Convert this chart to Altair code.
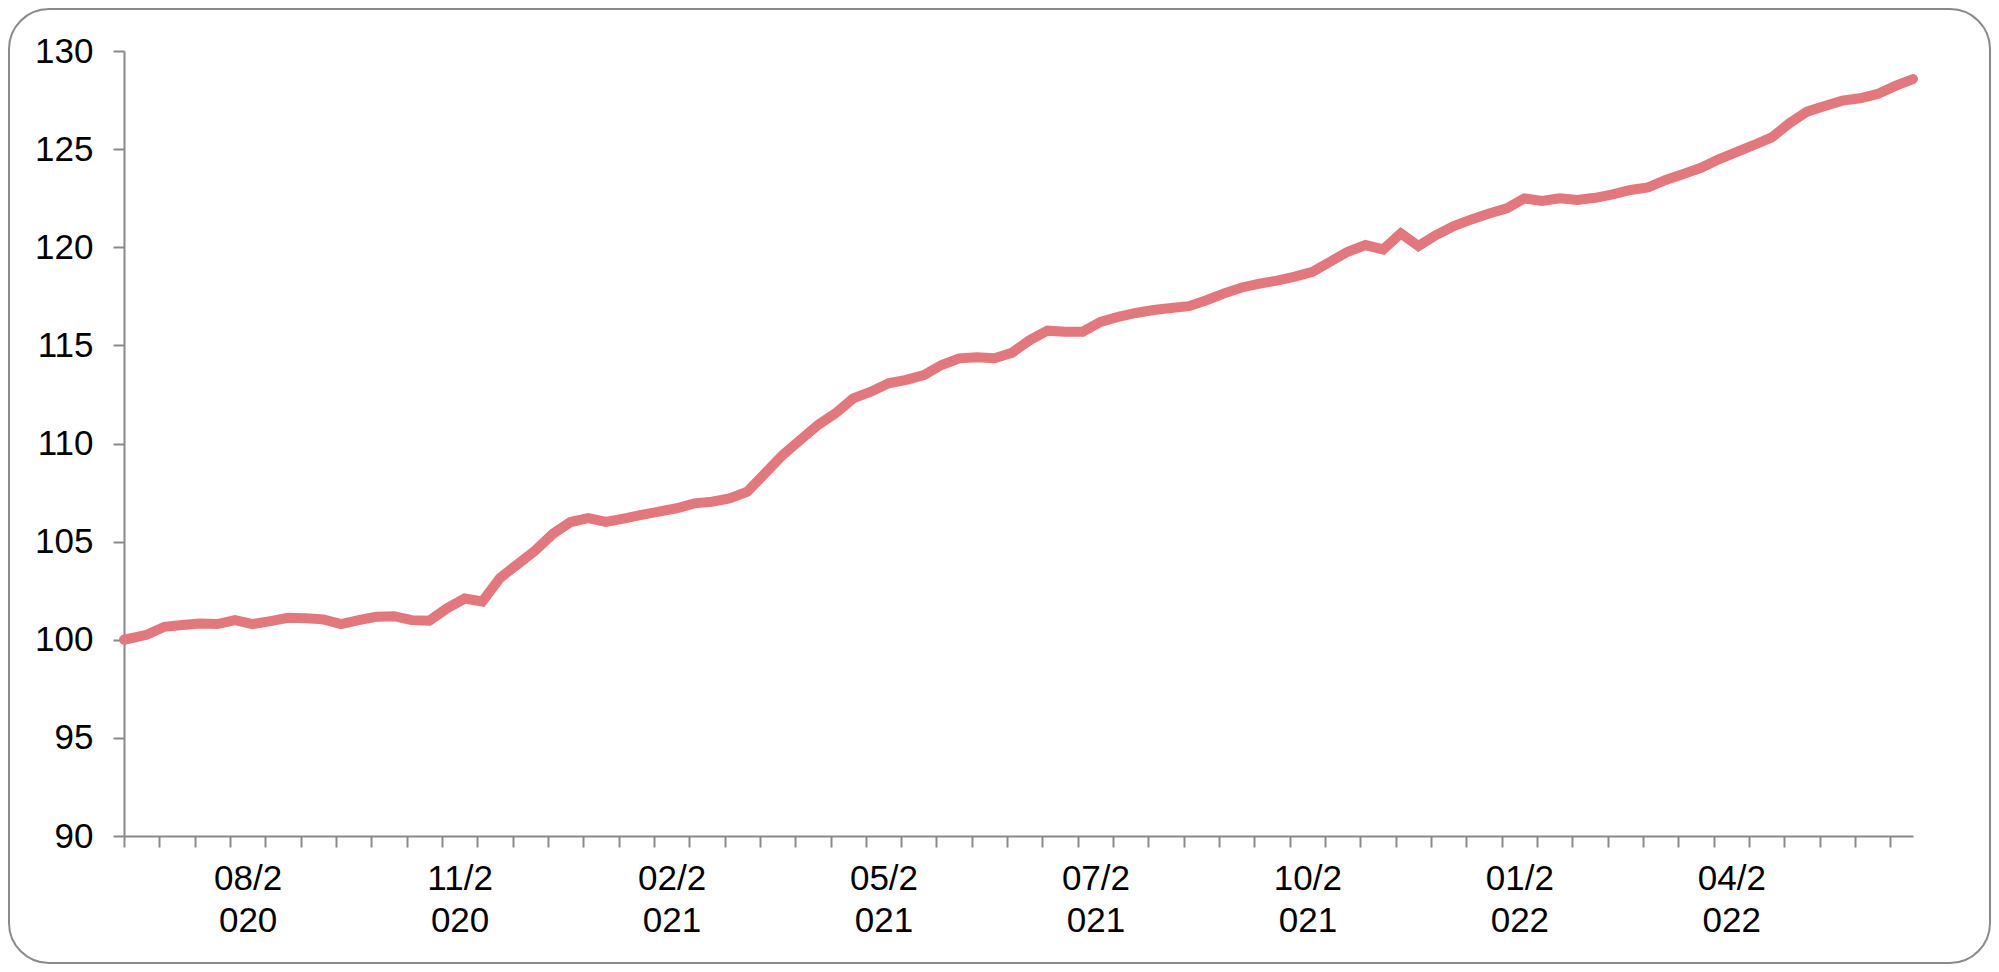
import altair as alt
import pandas as pd

# ---- data ----
START_DATE = "2020-07-05"      # base point (index = 100)
FIRST_WEEK = "2020-07-14"      # first weekly observation after the base
N_WEEKS = 101

VALUES = [
    100.0, 100.25, 100.66, 100.75, 100.83, 100.8, 101.0, 100.8, 100.95, 101.12,
    101.1, 101.04, 100.8, 101.0, 101.17, 101.2, 101.0, 100.97, 101.6, 102.1,
    101.95, 103.15, 103.85, 104.55, 105.4, 106.0, 106.2, 106.0, 106.17, 106.36,
    106.53, 106.7, 106.95, 107.03, 107.2, 107.54, 108.47, 109.41, 110.18, 110.94,
    111.54, 112.3, 112.64, 113.07, 113.24, 113.49, 114.0, 114.34, 114.39, 114.34,
    114.63, 115.27, 115.75, 115.7, 115.7, 116.2, 116.45, 116.65, 116.8, 116.9,
    117.0, 117.3, 117.65, 117.95, 118.15, 118.3, 118.5, 118.75, 119.26, 119.77,
    120.11, 119.89, 120.7, 120.06, 120.62, 121.08, 121.42, 121.72, 121.98, 122.49,
    122.36, 122.49, 122.41, 122.52, 122.69, 122.92, 123.05, 123.43, 123.73, 124.05,
    124.48, 124.85, 125.21, 125.6, 126.31, 126.91, 127.2, 127.47, 127.59, 127.81,
    128.22, 128.57,
]

X_LABELS = ["08/2020", "11/2020", "02/2021", "05/2021",
            "07/2021", "10/2021", "01/2022", "04/2022"]
Y_TICKS = [90, 95, 100, 105, 110, 115, 120, 125, 130]

TICK_STEP_DAYS = 14      # one minor tick every two weeks
FIRST_LABEL_SLOT = 3     # label sits in the 4th tick interval
LABEL_EVERY = 6          # then every 6 intervals

# ---- build table ----
dates = [pd.Timestamp(START_DATE)] + list(pd.date_range(FIRST_WEEK, periods=N_WEEKS, freq="7D"))
days = [(d - dates[0]).days for d in dates]
df = pd.DataFrame({"day": days, "value": VALUES})
x_max = days[-1]

tick_vals = list(range(0, x_max + 1, TICK_STEP_DAYS))
label_vals = [(FIRST_LABEL_SLOT + LABEL_EVERY * k) * TICK_STEP_DAYS + TICK_STEP_DAYS // 2
              for k in range(len(X_LABELS))]
axis_vals = sorted(set(tick_vals + label_vals))

expr = ""
for pos, lab in zip(label_vals, X_LABELS):
    expr += f"datum.value === {pos} ? ['{lab[:4]}', '{lab[4:]}'] : "
expr += "''"

AXIS_GRAY = "#898989"
FONT = "Liberation Sans"

line = alt.Chart(df).mark_line(
    color="#E3777B", strokeWidth=10, strokeCap="round"
).encode(
    x=alt.X(
        "day:Q",
        scale=alt.Scale(domain=[0, x_max], nice=False, zero=False),
        axis=alt.Axis(
            values=axis_vals, title=None, grid=False,
            domainColor=AXIS_GRAY, domainWidth=2,
            tickColor=AXIS_GRAY, tickWidth=2, tickSize=11,
            tickOpacity={"condition": {"test": f"datum.value % {TICK_STEP_DAYS} === 0", "value": 1}, "value": 0},
            labelExpr=expr, labelFont=FONT, labelFontSize=35, labelLineHeight=42,
            labelPadding=14, labelOverlap=False, labelFlush=False,
            labelColor="black", labelBaseline="top", labelAlign="center",
        ),
    ),
    y=alt.Y(
        "value:Q",
        scale=alt.Scale(domain=[90, 130], nice=False, zero=False),
        axis=alt.Axis(
            values=Y_TICKS, title=None, grid=False,
            domainColor=AXIS_GRAY, domainWidth=2,
            tickColor=AXIS_GRAY, tickWidth=2, tickSize=11,
            labelFont=FONT, labelFontSize=35, labelPadding=20,
            labelColor="black",
        ),
    ),
)

border = alt.Chart(alt.Data(values=[{"a": 0}])).mark_rect(
    filled=False, stroke="#8a8a8a", strokeWidth=2, cornerRadius=40
).encode(
    x=alt.value(-115), x2=alt.value(1866), y=alt.value(-42), y2=alt.value(912)
)

chart = alt.layer(border, line).properties(
    width=1789, height=785,
    padding={"left": 116, "top": 43, "right": 78, "bottom": 128},
    autosize=alt.AutoSizeParams(type="none"),
).configure_view(stroke="transparent")

chart.save("out.html", embed_options={"renderer": "svg", "actions": False})
